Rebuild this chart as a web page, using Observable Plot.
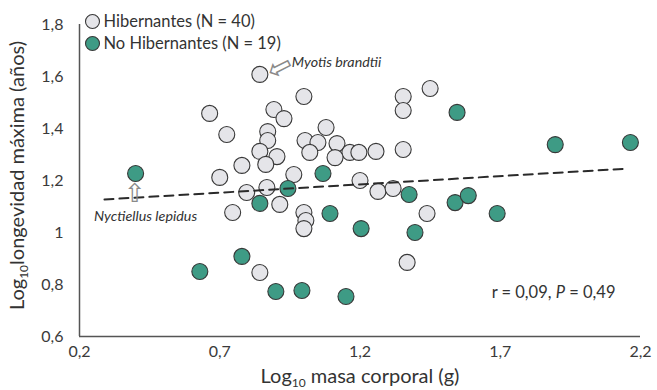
<!DOCTYPE html>
<html><head><meta charset="utf-8">
<script src="https://cdn.jsdelivr.net/npm/d3@7"></script>
<script src="https://cdn.jsdelivr.net/npm/@observablehq/plot@0.6"></script>
<style>body{margin:0;background:#fff}</style>
</head><body><div id="chart"></div>
<script>
// Hibernantes (N = 40)
const hibX = [0.843,0.664,0.725,0.893,0.929,0.871,0.871,0.843,0.904,0.864,0.779,0.700,1.000,1.079,1.004,1.050,1.021,1.118,1.164,1.196,1.257,1.354,1.111,1.354,1.354,1.450,0.964,0.868,0.796,0.914,0.746,1.000,1.007,1.000,0.843,1.200,1.264,1.318,1.439,1.368];
const hibY = [1.608,1.458,1.377,1.473,1.438,1.388,1.354,1.312,1.292,1.262,1.258,1.212,1.523,1.404,1.354,1.346,1.308,1.342,1.308,1.308,1.312,1.319,1.288,1.523,1.469,1.554,1.223,1.173,1.154,1.108,1.077,1.077,1.046,1.015,0.846,1.200,1.158,1.169,1.073,0.885];
// No Hibernantes (N = 19)
const noHibX = [0.400,0.943,0.843,1.068,1.093,1.204,1.375,1.396,1.539,1.586,1.689,1.546,1.896,2.164,0.629,0.779,0.900,0.993,1.150];
const noHibY = [1.227,1.169,1.112,1.227,1.073,1.015,1.146,1.000,1.115,1.142,1.073,1.462,1.338,1.346,0.850,0.908,0.773,0.777,0.754];
// trend line (dashed)
const trendX = [0.289, 2.157];
const trendY = [1.127, 1.246];
const xTicks = [0.2, 0.7, 1.2, 1.7, 2.2];
const yTicks = [0.6, 0.8, 1, 1.2, 1.4, 1.6, 1.8];
const groups = ["Hibernantes (N = 40)", "No Hibernantes (N = 19)"];
const colors = ["#e5e5e9", "#3e9b85"];
const statText = "r = 0,09, P = 0,49";
const xTitle = "Log10 masa corporal (g)";
const yTitle = "Log10 longevidad máxima (años)";
const labelMyotis = "Myotis brandtii";
const labelNyct = "Nyctiellus lepidus";

const hib = hibX.map((x, i) => ({x, y: hibY[i]}));
const noHib = noHibX.map((x, i) => ({x, y: noHibY[i]}));
const trend = trendX.map((x, i) => ({x, y: trendY[i]}));
const fmt = d => String(d).replace(".", ",");
const F = "Lato, 'Open Sans', sans-serif";
const stroke = "#383838";

const plot = Plot.plot({
  width: 657, height: 390,
  marginLeft: 79, marginRight: 17, marginTop: 24, marginBottom: 54,
  x: {domain: [0.2, 2.2]},
  y: {domain: [0.6, 1.8]},
  style: {fontFamily: F, fontSize: "16px", color: "#3a3a3a", background: "#fff"},
  marks: [
    Plot.axisX({ticks: xTicks, tickSize: 0, tickPadding: 9, tickFormat: fmt, label: null}),
    Plot.axisY({ticks: yTicks, tickSize: 0, tickPadding: 16, tickFormat: fmt, label: null}),
    Plot.ruleY([0.6], {stroke: "#555", strokeWidth: 1.5}),
    Plot.ruleX([0.2], {stroke: "#555", strokeWidth: 1.5}),
    Plot.dot(hib, {x: "x", y: "y", r: 8, fill: colors[0], stroke, strokeWidth: 1.1}),
    Plot.dot(noHib, {x: "x", y: "y", r: 8, fill: colors[1], stroke, strokeWidth: 1.1}),
    Plot.line(trend, {x: "x", y: "y", stroke: "#2a2a2a", strokeWidth: 2, strokeDasharray: "9,6"}),
    // annotations
    Plot.text([hib[0]], {x: "x", y: "y", text: () => labelMyotis, dx: 32, dy: -12, textAnchor: "start", fontStyle: "italic", fontSize: 14.3, fill: "#333"}),
    Plot.text([hib[0]], {x: "x", y: "y", text: () => "⇦", dx: 20, dy: -7, rotate: -27, fontFamily: "DejaVu Sans", fontSize: 30, fill: "#8a8a8a"}),
    Plot.text([noHib[0]], {x: "x", y: "y", text: () => labelNyct, dx: 10, dy: 43, textAnchor: "middle", fontStyle: "italic", fontSize: 14.3, fill: "#333"}),
    Plot.text([noHib[0]], {x: "x", y: "y", text: () => "⇧", dx: -1, dy: 20, fontFamily: "DejaVu Sans", fontSize: 26, fill: "#8a8a8a"}),
    // legend
    Plot.dot([groups[0]], {frameAnchor: "top-left", dx: 13, dy: -3, r: 7, fill: colors[0], stroke, strokeWidth: 1.1}),
    Plot.dot([groups[1]], {frameAnchor: "top-left", dx: 13, dy: 19, r: 7, fill: colors[1], stroke, strokeWidth: 1.1}),
    Plot.text([groups[0]], {text: d => d, frameAnchor: "top-left", dx: 24, dy: -3, textAnchor: "start", lineAnchor: "middle", fontSize: 16.5, fill: "#333"}),
    Plot.text([groups[1]], {text: d => d, frameAnchor: "top-left", dx: 24, dy: 19, textAnchor: "start", lineAnchor: "middle", fontSize: 16.5, fill: "#333"}),
    // stat
    Plot.text([statText], {text: d => d, frameAnchor: "bottom-right", dx: -25, dy: -44, textAnchor: "end", lineAnchor: "middle", fontSize: 16.5, fill: "#333"}),
    // axis titles
    Plot.text([xTitle], {text: d => d, frameAnchor: "bottom", dy: 40, textAnchor: "middle", lineAnchor: "middle", fontSize: 20, fill: "#333"}),
    Plot.text([yTitle], {text: d => d, frameAnchor: "left", dx: -62, dy: -5, rotate: -90, textAnchor: "middle", lineAnchor: "middle", fontSize: 20, fill: "#333"})
  ]
});

const svg = d3.select(plot);
svg.selectAll("text").each(function() {
  const t = this.textContent;
  const el = d3.select(this);
  if (t === statText) {
    el.text(null);
    el.append("tspan").text("r = 0,09, ");
    el.append("tspan").attr("font-style", "italic").text("P");
    el.append("tspan").text(" = 0,49");
  } else if (t === xTitle || t === yTitle) {
    const rest = t === xTitle ? " masa corporal (g)" : "longevidad máxima (años)";
    el.text(null);
    el.append("tspan").text("Log");
    el.append("tspan").attr("font-size", "12px").attr("dy", "4").text("10");
    el.append("tspan").attr("dy", "-4").text(rest);
  }
});
document.getElementById("chart").appendChild(plot);
</script>
</body></html>
